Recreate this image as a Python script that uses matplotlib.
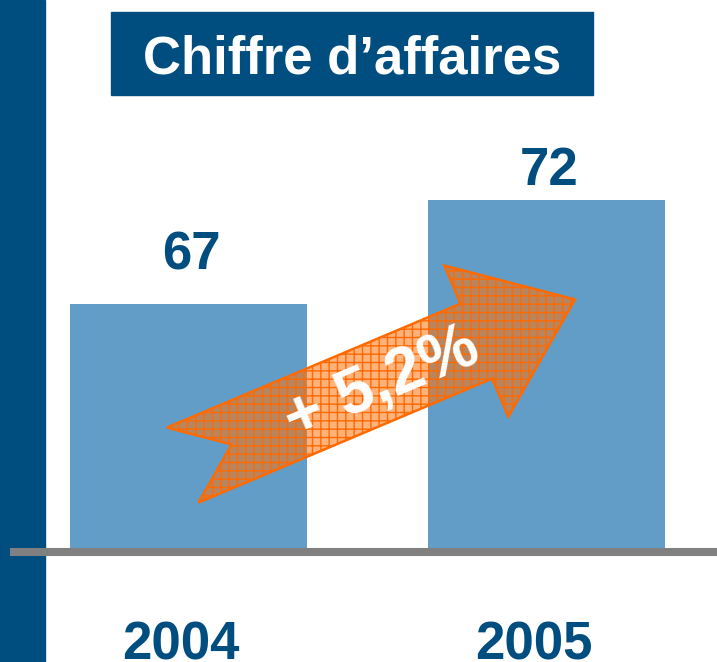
import numpy as np
import matplotlib
matplotlib.use('Agg')
import matplotlib.pyplot as plt
from matplotlib.patches import Rectangle, Polygon
from matplotlib.transforms import IdentityTransform

plt.rcParams['font.family'] = ['Liberation Sans', 'DejaVu Sans']
plt.rcParams['hatch.linewidth'] = 1.0

# données
years = ['2004', '2005']
ca = [67, 72]
growth_label = '+ 5,2%'
title = 'Chiffre d\u2019affaires'
base_value = 55          # l'axe ne démarre pas à zéro

# couleurs
dark_blue = '#004D80'
bar_blue = '#629DC8'
grey = '#808080'
orange = '#FF6A00'

W, H = 717, 662
fig = plt.figure(figsize=(W / 100, H / 100), dpi=100)
ax = fig.add_axes([0, 0, 1, 1])
ax.axis('off')

# échelle : 357.5 px entre barres, 20.7 px par unité
px_per_x = 357.5
px_per_y = 20.7
x0_px = 188.5
base_px = 552
ax.set_xlim(-x0_px / px_per_x, (W - x0_px) / px_per_x)
ax.set_ylim(base_value - (H - base_px) / px_per_y, base_value + base_px / px_per_y)

x = np.arange(len(years))
heights = [v - base_value for v in ca]
bars = ax.bar(x, heights, bottom=base_value, width=237 / px_per_x,
              color=bar_blue, zorder=2)

# bande verticale à gauche
ax.add_patch(Rectangle((0, 0), 45 / W, 1, transform=ax.transAxes,
                       color=dark_blue, zorder=1))

# ligne de base
ax.axhline(base_value, xmin=10 / W, xmax=1, color=grey, lw=5.8,
           solid_capstyle='butt', zorder=3)

# titre encadré
ax.add_patch(Rectangle((111 / W, 1 - 95 / H), 482 / W, 83 / H,
                       transform=ax.transAxes, color=dark_blue, zorder=4))
ax.text(352 / W, 1 - 74 / H, title, transform=ax.transAxes, ha='center',
        va='baseline', color='white', fontsize=38, fontweight='bold', zorder=5)

# valeurs au-dessus des barres
label_offsets = [34, 15]
for xi, v, off in zip(x, ca, label_offsets):
    ax.annotate(f'{v}', xy=(xi, v), xytext=(3, off), textcoords='offset pixels',
                ha='center', va='baseline', color=dark_blue, fontsize=38,
                fontweight='bold', zorder=5)

# années sous l'axe
year_dx = [-8, -12]
for xi, yr, dx in zip(x, years, year_dx):
    ax.annotate(yr, xy=(xi, base_value), xytext=(dx, -107), textcoords='offset pixels',
                ha='center', va='baseline', color=dark_blue, fontsize=38,
                fontweight='bold', zorder=5)

# flèche de croissance (construite en pixels)
fig.canvas.draw()
arrow_start = (-0.016, 59.2)
arrow_end = (1.081, 67.2)
p0 = ax.transData.transform(arrow_start)
p1 = ax.transData.transform(arrow_end)
d = p1 - p0
L = np.hypot(*d)
u = d / L
n = np.array([-u[1], u[0]])
w, hl, hw, nd = 40.7, 107, 82, 53
b = p0 + (L - hl) * u
pts = [p0 + w * n, b + w * n, b + hw * n, p1, b - hw * n, b - w * n,
       p0 - w * n, p0 + nd * u]
arrow = Polygon(pts, closed=True, transform=IdentityTransform(),
                facecolor=(1.0, 0.45, 0.05, 0.55), edgecolor=orange, lw=1.8,
                hatch='++', zorder=6)
ax.add_patch(arrow)

angle = np.degrees(np.arctan2(u[1], u[0]))
tc = p0 + 215 * u - 2.7 * n
ax.text(tc[0], tc[1], growth_label, transform=IdentityTransform(),
        rotation=angle, rotation_mode='anchor', ha='center', va='center',
        color='white', fontsize=47, fontweight='bold', zorder=7)

fig.savefig('out.png', dpi=100)
